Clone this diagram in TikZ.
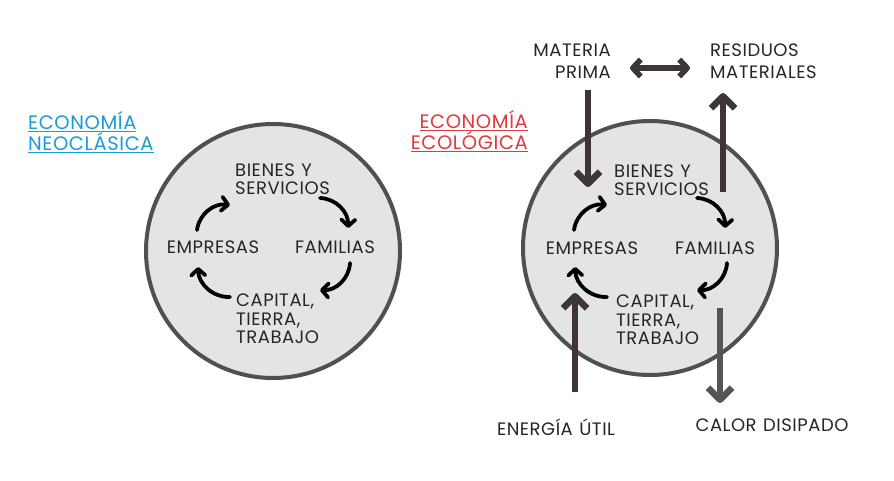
\documentclass[tikz,border=0pt]{standalone}
\usepackage{fontspec}
\setmainfont{Poppins}[LetterSpace=3,WordSpace=1.2]
\usetikzlibrary{arrows.meta}
\definecolor{circfill}{HTML}{E4E4E6}
\definecolor{circline}{HTML}{505050}
\definecolor{bigarrow}{HTML}{3D3537}
\definecolor{heatarrow}{HTML}{555555}
\definecolor{neoblue}{HTML}{1E9AD6}
\definecolor{ecored}{HTML}{E03A3E}
\begin{document}
\begin{tikzpicture}[x=1pt,y=1pt,
  circ/.style={circle,fill=circfill,draw=circline,line width=4pt,minimum size=254pt,inner sep=0pt},
  lbl/.style={font=\fontsize{18}{18.5}\selectfont,text=black!85,inner sep=0pt},
  cyc/.style={line width=3.8pt,line cap=round,-{Straight Barb[length=6.5pt,width=14pt,line cap=round,line join=round]},bend left=45},
  big/.style={line width=6.5pt,draw=bigarrow,-{Straight Barb[length=12pt,width=24pt,line join=round]}},
  title/.style={font=\fontsize{19.5}{21.5}\selectfont,inner sep=0pt}
]
\path[use as bounding box,fill=white] (0,0) rectangle (894,480);

% ---------- left: neoclassical ----------
\node[title,text=neoblue,anchor=west,align=left] (neo) at (28,348) {\underline{ECONOMÍA}\\\underline{NEOCLÁSICA}};
\node[circ] (c1) at (273,229) {};
\node[lbl,anchor=west,align=left] (bs1) at (235,301) {BIENES Y\\SERVICIOS};
\node[lbl] (emp1) at (213,233) {EMPRESAS};
\node[lbl] (fam1) at (335,233) {FAMILIAS};
\node[lbl,anchor=west,align=left] (ctt1) at (236,161) {CAPITAL,\\TIERRA,\\TRABAJO};
\coordinate (a1s) at (197,250); \coordinate (a1e) at (230,275);
\coordinate (a2s) at (320,282); \coordinate (a2e) at (348,252);
\coordinate (a3s) at (350,217); \coordinate (a3e) at (320,190);
\coordinate (a4s) at (230,183); \coordinate (a4e) at (198,213);
\draw[cyc] (a1s) to (a1e);
\draw[cyc] (a2s) to (a2e);
\draw[cyc] (a3s) to (a3e);
\draw[cyc] (a4s) to (a4e);

% ---------- right: ecological ----------
\node[title,text=ecored,anchor=east,align=right] (eco) at (528,349) {\underline{ECONOMÍA}\\\underline{ECOLÓGICA}};
\node[circ] (c2) at (650,232) {};
\begin{scope}[shift={(377,0)}]
\node[lbl,anchor=west,align=left] (bs2) at (237,300) {BIENES Y\\SERVICIOS};
\node[lbl] (emp2) at (215,232) {EMPRESAS};
\node[lbl] (fam2) at (338,232) {FAMILIAS};
\node[lbl,anchor=west,align=left] (ctt2) at (239,160) {CAPITAL,\\TIERRA,\\TRABAJO};
\coordinate (b1s) at (197,250); \coordinate (b1e) at (230,275);
\coordinate (b2s) at (320,282); \coordinate (b2e) at (348,252);
\coordinate (b3s) at (350,217); \coordinate (b3e) at (320,190);
\coordinate (b4s) at (230,183); \coordinate (b4e) at (198,213);
\end{scope}
\draw[cyc] (b1s) to (b1e);
\draw[cyc] (b2s) to (b2e);
\draw[cyc] (b3s) to (b3e);
\draw[cyc] (b4s) to (b4e);

\node[lbl,font=\fontsize{18}{22}\selectfont,anchor=east,align=right] (mp) at (611,419) {MATERIA\\PRIMA};
\node[lbl,font=\fontsize{18}{22}\selectfont,anchor=west,align=left] (rm) at (710,419) {RESIDUOS\\MATERIALES};
\node[lbl] (eu) at (556,53) {ENERGÍA ÚTIL};
\node[lbl] (cd) at (772,55) {CALOR DISIPADO};

\coordinate (mps) at (588,390); \coordinate (mpe) at (588,293);
\coordinate (rms) at (723,288); \coordinate (rme) at (723,387);
\coordinate (dbl) at (630,412); \coordinate (dbr) at (690,412);
\coordinate (eus) at (575,88);  \coordinate (eue) at (575,187);
\coordinate (cds) at (720,172); \coordinate (cde) at (720,77);
\draw[big] (mps) -- (mpe);
\draw[big] (rms) -- (rme);
\draw[big,line width=5.5pt,{Straight Barb[length=8pt,width=17pt,line join=round]}-{Straight Barb[length=8pt,width=17pt,line join=round]}] (dbl) -- (dbr);
\draw[big] (eus) -- (eue);
\draw[big,draw=heatarrow] (cds) -- (cde);
\end{tikzpicture}
\end{document}
